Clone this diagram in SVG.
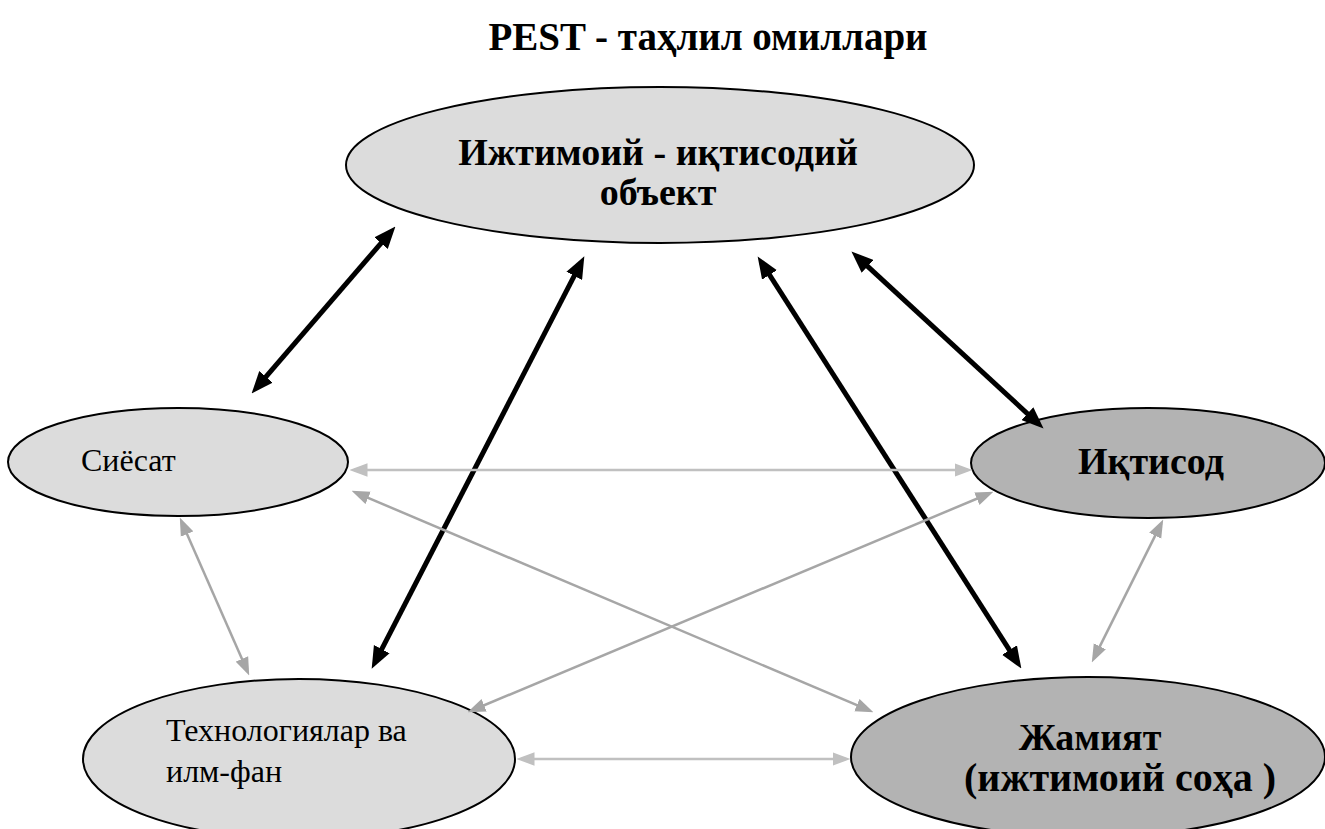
<svg xmlns="http://www.w3.org/2000/svg" width="1325" height="829" viewBox="0 0 1325 829">
<style>
.t{font-family:'Liberation Serif','DejaVu Serif',serif;fill:#000}
.r{font-size:32px}
.b{font-weight:bold;font-size:38px;text-anchor:middle}
.light{fill:#dcdcdc;stroke:#000;stroke-width:2}
.dark{fill:#b3b3b3;stroke:#000;stroke-width:2}
.blk{stroke:#000;stroke-width:5;fill:none;marker-start:url(#mb);marker-end:url(#mb)}
.g1{stroke:#a6a6a6;stroke-width:2.5;fill:none;marker-start:url(#mg1);marker-end:url(#mg1)}
.g2{stroke:#c0c0c0;stroke-width:2.5;fill:none;marker-start:url(#mg2);marker-end:url(#mg2)}
</style>
<defs>
<marker id="mb" markerUnits="userSpaceOnUse" markerWidth="22" markerHeight="18" refX="13" refY="8" orient="auto-start-reverse" viewBox="0 0 20 16"><path d="M0,0 L20,8 L0,16 z" fill="#000"/></marker>
<marker id="mg1" markerUnits="userSpaceOnUse" markerWidth="18" markerHeight="14" refX="12" refY="6" orient="auto-start-reverse" viewBox="0 0 16 12"><path d="M0,0 L16,6 L0,12 z" fill="#a6a6a6"/></marker>
<marker id="mg2" markerUnits="userSpaceOnUse" markerWidth="18" markerHeight="14" refX="12" refY="6" orient="auto-start-reverse" viewBox="0 0 16 12"><path d="M0,0 L16,6 L0,12 z" fill="#c0c0c0"/></marker>
</defs>
<rect width="1325" height="829" fill="#fff"/>
<text class="t b" x="708" y="50" style="font-size:39px">PEST - таҳлил омиллари</text>

<g id="node-object">
<ellipse class="light" cx="660" cy="165" rx="314" ry="78"/>
<text class="t b" x="658" y="165">Ижтимоий - иқтисодий</text>
<text class="t b" x="658" y="205">объект</text>
</g>
<g id="node-siyosat">
<ellipse class="light" cx="178" cy="462" rx="170" ry="54"/>
<text class="t r" x="81" y="471">Сиёсат</text>
</g>
<g id="node-iqtisod">
<ellipse class="dark" cx="1148" cy="463" rx="177" ry="55"/>
<text class="t b" x="1151" y="474">Иқтисод</text>
</g>
<g id="node-tech">
<ellipse class="light" cx="299" cy="759" rx="216" ry="80"/>
<text class="t r" x="166" y="741">Технологиялар ва</text>
<text class="t r" x="166" y="782">илм-фан</text>
</g>
<g id="node-jamiyat">
<ellipse class="dark" cx="1088" cy="757" rx="237" ry="80"/>
<text class="t b" x="1090" y="750">Жамият</text>
<text class="t b" x="1120" y="791" style="font-size:40px">(ижтимоий соҳа )</text>
</g>

<g id="connectors">
<line class="blk" x1="256.6" y1="387.7" x2="390.4" y2="232.3"/>
<line class="blk" x1="375.2" y1="661.8" x2="580.8" y2="263.2"/>
<line class="blk" x1="1017.2" y1="662.1" x2="761.8" y2="262.9"/>
<line class="blk" x1="857.1" y1="256.7" x2="1037.9" y2="423.3"/>
<line class="g2" x1="354" y1="470" x2="968" y2="470"/>
<line class="g2" x1="521" y1="759" x2="846" y2="759"/>
<line class="g1" x1="355.7" y1="492.6" x2="869.3" y2="710.4"/>
<line class="g1" x1="471.7" y1="710.5" x2="989.3" y2="493.5"/>
<line class="g1" x1="181.6" y1="521.7" x2="247.4" y2="671.3"/>
<line class="g1" x1="1161.2" y1="523.6" x2="1093.8" y2="658.4"/>
</g>
</svg>
